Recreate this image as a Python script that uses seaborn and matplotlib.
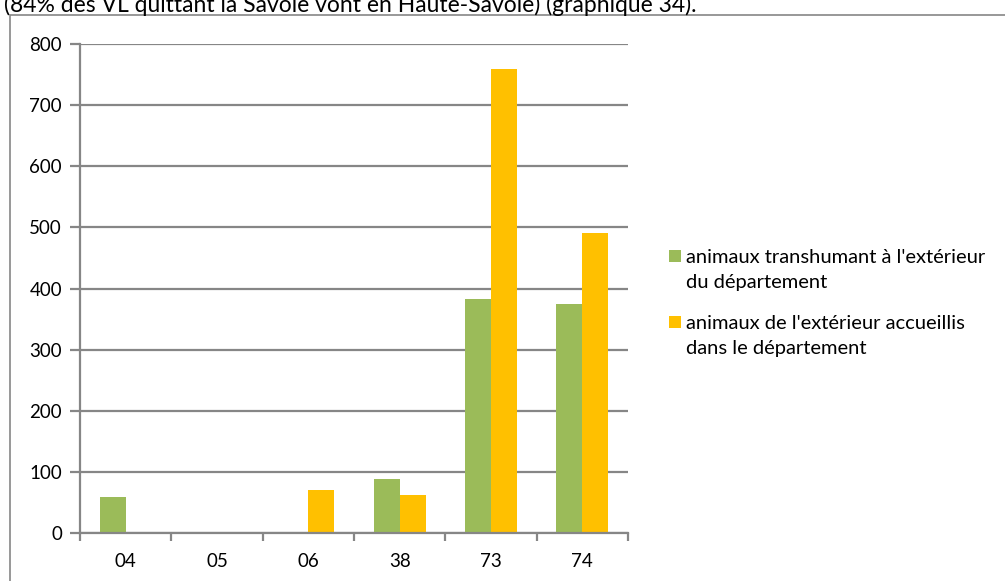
import matplotlib
matplotlib.use("Agg")
import matplotlib.pyplot as plt
import matplotlib.patches as mpatches
import seaborn as sns
import pandas as pd

departements = ["04", "05", "06", "38", "73", "74"]
sortants = [60, 0, 0, 89, 383, 375]
entrants = [0, 0, 70, 62, 759, 491]
series_labels = [
    "animaux transhumant à l'extérieur\ndu département",
    "animaux de l'extérieur accueillis\ndans le département",
]
y_ticks = [0, 100, 200, 300, 400, 500, 600, 700, 800]

colors = ["#9BBB59", "#FFC000"]
grey = "#868686"

df = pd.DataFrame({
    "dep": departements * 2,
    "valeur": sortants + entrants,
    "serie": [series_labels[0]] * len(departements) + [series_labels[1]] * len(departements),
})

sns.set_theme(style="white")
plt.rcParams["font.family"] = ["Lato", "DejaVu Sans"]

W, H = 1005, 581
fig = plt.figure(figsize=(W / 100, H / 100), dpi=100)
ax = fig.add_axes([80 / W, 1 - 533.3 / H, (628 - 80) / W, (533.3 - 44) / H])

sns.barplot(data=df, x="dep", y="valeur", hue="serie", order=departements,
            hue_order=series_labels, palette=colors, width=0.57, ax=ax,
            saturation=1, legend=False, linewidth=0)

ax.set_ylim(0, 800)
ax.set_xlim(-0.5, len(departements) - 0.5)
ax.set_yticks(y_ticks)
ax.set_yticklabels([str(v) for v in y_ticks])
ax.set_xlabel("")
ax.set_ylabel("")
ax.yaxis.grid(True, color=grey, linewidth=1.6)
ax.set_axisbelow(True)
for side in ["top", "right"]:
    ax.spines[side].set_visible(False)
for side in ["left", "bottom"]:
    ax.spines[side].set_color(grey)
    ax.spines[side].set_linewidth(1.6)

ax.tick_params(axis="y", which="major", length=7, width=1.6, color=grey,
               direction="out", left=True, labelsize=13.5, pad=6, labelcolor="black")
# category ticks sit between bars
ax.set_xticks(range(len(departements)))
ax.set_xticklabels(departements)
ax.tick_params(axis="x", which="major", length=0, labelsize=13.5, pad=14, labelcolor="black")
ax.set_xticks([i - 0.5 for i in range(len(departements) + 1)], minor=True)
ax.tick_params(axis="x", which="minor", length=6, width=1.6, color=grey, direction="out",
               bottom=True)

# legend: square key aligned with the first line of each wrapped label
key_x, text_x, key_size = 669, 686, 12
for color, label, y_first in zip(colors, series_labels, [256, 322]):
    fig.add_artist(mpatches.Rectangle((key_x / W, 1 - (y_first + key_size / 2) / H),
                                      key_size / W, key_size / H,
                                      transform=fig.transFigure, facecolor=color,
                                      edgecolor="none"))
    fig.text(text_x / W, 1 - (y_first - 7) / H, label, fontsize=14.5,
             ha="left", va="top", linespacing=1.6, color="black")

# chart frame
fig.add_artist(mpatches.Rectangle((10 / W, -0.1), 1.2, 1 - 15 / H + 0.1,
                                  transform=fig.transFigure, fill=False,
                                  edgecolor=grey, linewidth=1.2))

fig.text(4 / W, 1 - 12 / H,
         "(84% des VL quittant la Savoie vont en Haute-Savoie) (graphique 34).",
         fontsize=16.5, va="baseline", ha="left", color="black")

fig.savefig("out.png", dpi=100)
